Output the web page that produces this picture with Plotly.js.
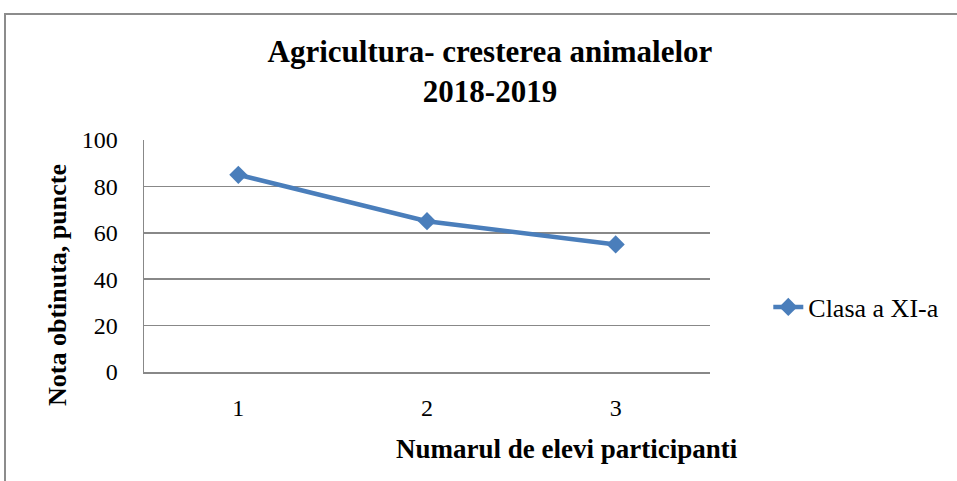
<!DOCTYPE html>
<html>
<head>
<meta charset="utf-8">
<script src="https://cdn.plot.ly/plotly-3.0.1.min.js"></script>
<style>
  html, body { margin: 0; padding: 0; background: #ffffff; }
  #frame { position: absolute; left: 4px; top: 13px; width: 1000px; height: 500px;
           border-left: 2px solid #8c8c8c; border-top: 2px solid #8c8c8c; box-sizing: border-box; }
  #chart { position: absolute; left: 0; top: 0; width: 957px; height: 481px; }
</style>
</head>
<body>
<div id="frame"></div>
<div id="chart"></div>
<script>
// Data
const categories = ['1', '2', '3'];
const values = [85, 65, 55];
const seriesName = 'Clasa a XI-a';
const yTicks = [0, 20, 40, 60, 80, 100];
const chartTitle = 'Agricultura- cresterea animalelor<br>2018-2019';
const xTitle = 'Numarul de elevi participanti';
const yTitle = 'Nota obtinuta, puncte';

const FONT = '"Liberation Serif", "Times New Roman", serif';
const BLUE = '#4a7ebb';
const GRID = '#888888';

const trace = {
  type: 'scatter',
  mode: 'lines+markers',
  x: categories,
  y: values,
  name: seriesName,
  line: { color: BLUE, width: 4.5 },
  marker: { symbol: 'diamond', size: 14, color: BLUE },
  showlegend: true
};

const layout = {
  width: 957,
  height: 481,
  margin: { l: 144, r: 247, t: 140, b: 109 },
  paper_bgcolor: 'rgba(0,0,0,0)',
  plot_bgcolor: 'rgba(0,0,0,0)',
  font: { family: FONT, color: '#000000' },
  title: {
    text: chartTitle,
    font: { family: FONT, size: 31, weight: 'bold', color: '#000' },
    x: 0.512, xanchor: 'center',
    y: 0.872, yanchor: 'top', yref: 'container'
  },
  xaxis: {
    type: 'category',
    range: [-0.5, 2.5],
    showline: true, linecolor: GRID, linewidth: 1.5,
    showgrid: false, zeroline: false,
    ticks: '',
    ticklabelstandoff: 14,
    tickfont: { family: FONT, size: 24, color: '#000' }
  },
  yaxis: {
    range: [0, 100],
    tickvals: yTicks,
    showline: true, linecolor: GRID, linewidth: 1.5,
    showgrid: true, gridcolor: GRID, gridwidth: 1.5,
    zeroline: false,
    ticks: '',
    ticklabelstandoff: 20,
    tickfont: { family: FONT, size: 24, color: '#000' }
  },
  legend: {
    x: 1.103, xanchor: 'left',
    y: 0.28, yanchor: 'middle',
    font: { family: FONT, size: 26, color: '#000' },
    bgcolor: 'rgba(0,0,0,0)',
    itemwidth: 30
  },
  annotations: [
    {
      text: xTitle, xref: 'paper', yref: 'paper',
      x: (567 - 144) / 566, y: -(449 - 372) / 232,
      xanchor: 'center', yanchor: 'middle', showarrow: false,
      font: { family: FONT, size: 27, weight: 'bold', color: '#000' }
    },
    {
      text: yTitle, xref: 'paper', yref: 'paper',
      x: -(144 - 57) / 566, y: (372 - 285) / 232,
      xanchor: 'center', yanchor: 'middle', showarrow: false, textangle: -90,
      font: { family: FONT, size: 26, weight: 'bold', color: '#000' }
    }
  ]
};

Plotly.newPlot('chart', [trace], layout, { displayModeBar: false, staticPlot: true });
</script>
</body>
</html>
